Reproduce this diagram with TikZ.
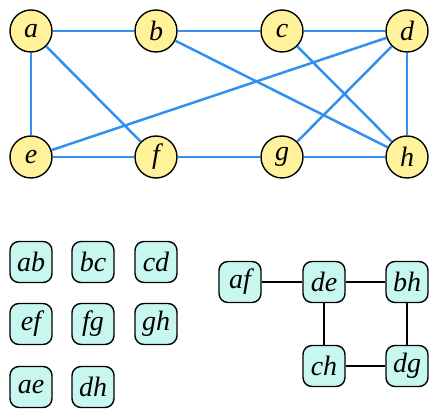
\documentclass[tikz,border=0pt]{standalone}
\usepackage{fontspec}
\setmainfont{Liberation Serif}
\definecolor{edgeblue}{RGB}{50,145,240}
\definecolor{nodeyellow}{RGB}{255,242,155}
\definecolor{boxcyan}{RGB}{200,247,240}
\begin{document}
\begin{tikzpicture}[x=1pt,y=-1pt,
  vert/.style={circle,draw=black,line width=1.4pt,fill=nodeyellow,minimum size=42pt,inner sep=0pt,font=\fontsize{28}{28}\selectfont\itshape},
  gedge/.style={edgeblue,line width=2.5pt},
  ebox/.style={rectangle,rounded corners=9pt,draw=black,line width=1.4pt,fill=boxcyan,minimum width=42pt,minimum height=41pt,inner sep=0pt,font=\fontsize{28}{28}\selectfont\itshape},
  bedge/.style={black,line width=2.3pt}]
\useasboundingbox (0,0) rectangle (439,419);
\node[vert] (a) at (31,31) {a};
\node[vert] (b) at (156,31) {b};
\node[vert] (c) at (282,31) {c};
\node[vert] (d) at (407,31) {d};
\node[vert] (e) at (31,157) {e};
\node[vert] (f) at (156,157) {f};
\node[vert] (g) at (282,157) {g};
\node[vert] (h) at (407,157) {h};
\draw[gedge] (a) -- (b);
\draw[gedge] (b) -- (c);
\draw[gedge] (c) -- (d);
\draw[gedge] (a) -- (e);
\draw[gedge] (a) -- (f);
\draw[gedge] (e) -- (f);
\draw[gedge] (f) -- (g);
\draw[gedge] (g) -- (h);
\draw[gedge] (d) -- (h);
\draw[gedge] (e) -- (d);
\draw[gedge] (b) -- (h);
\draw[gedge] (c) -- (h);
\draw[gedge] (g) -- (d);
\node[ebox] (ab) at (31,262) {ab};
\node[ebox] (bc) at (93,262) {bc};
\node[ebox] (cd) at (156,262) {cd};
\node[ebox] (ef) at (31,324) {ef};
\node[ebox] (fg) at (93,324) {fg};
\node[ebox] (gh) at (156,324) {gh};
\node[ebox] (ae) at (31,387) {ae};
\node[ebox] (dh) at (93,387) {dh};
\node[ebox] (af) at (240,282) {af};
\node[ebox] (de) at (324,282) {de};
\node[ebox] (bh) at (407,282) {bh};
\node[ebox] (ch) at (324,366) {ch};
\node[ebox] (dg) at (407,366) {dg};
\draw[bedge] (af) -- (de);
\draw[bedge] (de) -- (bh);
\draw[bedge] (de) -- (ch);
\draw[bedge] (bh) -- (dg);
\draw[bedge] (ch) -- (dg);
\end{tikzpicture}
\end{document}
